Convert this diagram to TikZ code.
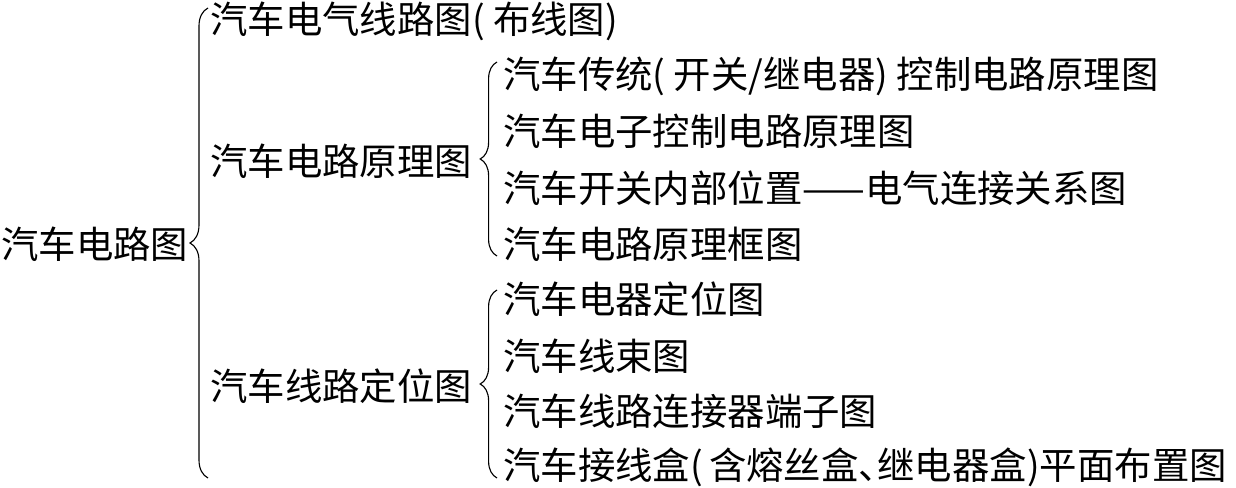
\documentclass[tikz,border=0pt]{standalone}
\usepackage{fontspec}
\setmainfont{Noto Sans CJK SC}
\usetikzlibrary{positioning, decorations.pathreplacing}

\tikzset{
  entry/.style={anchor=west, inner sep=0pt, font=\fontsize{26.6}{30}\selectfont},
  bracket/.style={decorate, line width=0.8pt, decoration={brace, amplitude=#1, aspect=0.5}},
}

\begin{document}
\begin{tikzpicture}[x=0.025cm, y=0.025cm]
      \useasboundingbox (0,0) rectangle (1236,487);

      % --- Root ---
      \node[entry] (root) at (1,243) {汽车电路图};

      % --- First level ---
      \node[entry] (wiring)   at (210,466) {汽车电气线路图( 布线图)};
      \node[entry] (schema)   at (210,326) {汽车电路原理图};
      \node[entry] (location) at (210,101) {汽车线路定位图};

      % --- Second level: schematic diagrams ---
      \node[entry] (classic)  at (503,411) {汽车传统( 开关/继电器) 控制电路原理图};
      \node[entry] (electron) at (503,356) {汽车电子控制电路原理图};
      \node[entry] (switch)   at (503,299) {汽车开关内部位置——电气连接关系图};
      \node[entry] (block)    at (503,243) {汽车电路原理框图};

      % --- Second level: location diagrams ---
      \node[entry] (device)   at (503,188) {汽车电器定位图};
      \node[entry] (harness)  at (503,131) {汽车线束图};
      \node[entry] (plug)     at (503,76)  {汽车线路连接器端子图};
      % the pause mark is set half wide, as printed
      \node[entry] (fusebox)  at (503,20)  {汽车接线盒(\,含熔丝盒、\kern-0.5em继电器盒)平面布置图};

      % --- Braces ---
      \coordinate (rootLow)  at (208,9);
      \coordinate (rootHigh) at (208,479);
      \coordinate (schLow)   at (497,231);
      \coordinate (schHigh)  at (497,425);
      \coordinate (locLow)   at (497,9);
      \coordinate (locHigh)  at (497,197);

      \draw[bracket=0.45cm] (rootLow) -- (rootHigh);
      \draw[bracket=0.42cm] (schLow) -- (schHigh);
      \draw[bracket=0.42cm] (locLow) -- (locHigh);
\end{tikzpicture}
\end{document}
